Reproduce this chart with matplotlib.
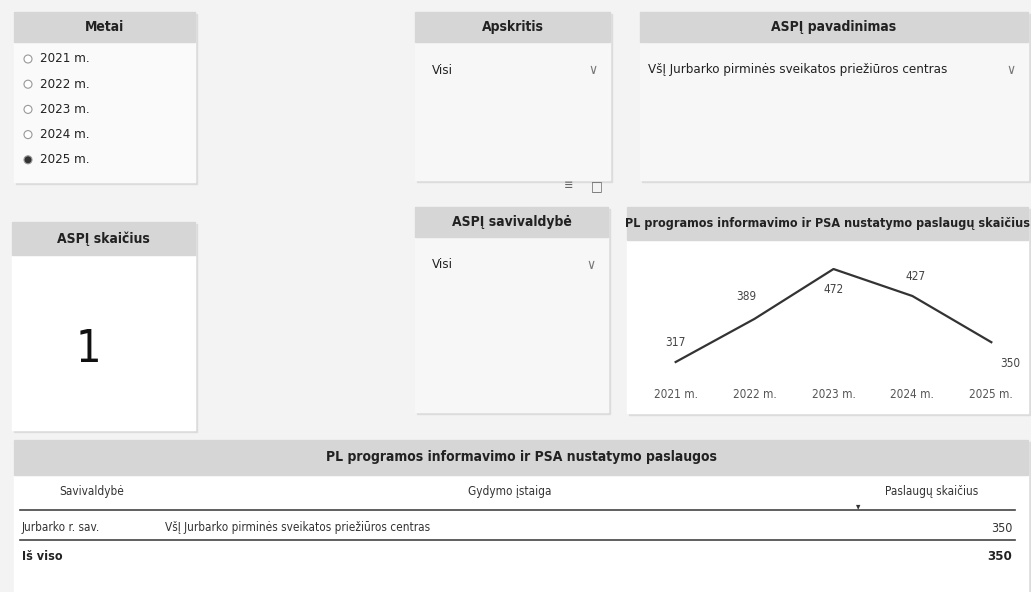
import matplotlib.pyplot as plt
from matplotlib.patches import Rectangle, Circle

W, H = 1031, 592

years = ['2021 m.', '2022 m.', '2023 m.', '2024 m.', '2025 m.']
services = [317, 389, 472, 427, 350]
selected_year = '2025 m.'
asp_count = 1
county = 'Visi'
municipality = 'Visi'
asp_name = 'VšĮ Jurbarko pirminės sveikatos priežiūros centras'
table_cols = ['Savivaldybė', 'Gydymo įstaiga', 'Paslaugų skaičius']
table_rows = [('Jurbarko r. sav.', asp_name, 350)]
table_total = 350

plt.rcParams['font.family'] = ['DejaVu Sans']
plt.rcParams['font.stretch'] = 'condensed'

fig = plt.figure(figsize=(W / 100, H / 100), dpi=100)
fig.patch.set_facecolor('#f3f3f3')
bg = fig.add_axes([0, 0, 1, 1])
bg.set_xlim(0, W)
bg.set_ylim(H, 0)
bg.axis('off')

HEAD = '#d6d6d6'
TXT = '#222222'


def card(x, y, w, h, title, head_h=30, body='white', fs=10):
    bg.add_patch(Rectangle((x + 2, y + 2), w, h, color='#dcdcdc', zorder=0))
    bg.add_patch(Rectangle((x, y), w, h, color=body, zorder=1))
    bg.add_patch(Rectangle((x, y), w, head_h, color=HEAD, zorder=2))
    bg.text(x + w / 2, y + head_h / 2, title, ha='center', va='center',
            fontsize=fs, fontweight='bold', color=TXT, zorder=3)


# Metai slicer
card(14, 12, 181, 170, 'Metai', body='#fafafa')
for i, yr in enumerate(years):
    yy = 59 + i * 25.2
    filled = yr == selected_year
    bg.add_patch(Circle((28, yy), 4, facecolor='#333333' if filled else 'white',
                        edgecolor='#999999', lw=0.8, zorder=3))
    bg.text(40, yy, yr, va='center', ha='left', fontsize=9.5, color=TXT, zorder=3)


# dropdown slicers
def dropdown(x, y, w, h, title, value, tx):
    card(x, y, w, h, title, body='#f7f7f7')
    bg.text(x + tx, y + 58, value, va='center', ha='left', fontsize=9.5, color=TXT, zorder=3)
    bg.text(x + w - 17, y + 58, '∨', va='center', ha='center', fontsize=10, color='#777777', zorder=3)


dropdown(415, 12, 195, 168, 'Apskritis', county, 17)
dropdown(640, 12, 388, 168, 'ASPĮ pavadinimas', asp_name, 8)
dropdown(415, 207, 193, 205, 'ASPĮ savivaldybė', municipality, 17)
bg.text(568, 186, '≡', fontsize=9, color='#666666', ha='center', va='center')
bg.text(597, 186, '□', fontsize=10, color='#666666', ha='center', va='center')

# ASPĮ skaičius card
card(12, 222, 183, 208, 'ASPĮ skaičius', head_h=33)
bg.text(88, 350, str(asp_count), ha='center', va='center', fontsize=32, color='#111111', zorder=3)

# line chart card
card(627, 207, 401, 206, 'PL programos informavimo ir PSA nustatymo paslaugų skaičius', head_h=33, fs=9)
x0, x1 = 652, 1015
y0, y1 = 250, 380
ax = fig.add_axes([x0 / W, 1 - y1 / H, (x1 - x0) / W, (y1 - y0) / H])
ax.patch.set_alpha(0)
xs = list(range(len(years)))
ax.plot(xs, services, color='#333333', lw=1.6)
ax.set_xlim(-0.3, 4.3)
ax.set_ylim(287, 503.7)
ax.set_xticks(xs)
ax.set_xticklabels(years, fontsize=8.5, color='#555555')
ax.set_yticks([])
ax.tick_params(axis='x', length=0, pad=6)
for s in ax.spines.values():
    s.set_visible(False)
offsets = [(0, 14), (-6, 16), (0, -15), (2, 14), (14, -15)]
for xv, v, (dx, dy) in zip(xs, services, offsets):
    ax.annotate(str(v), (xv, v), xytext=(dx, dy), textcoords='offset points',
                ha='center', va='center', fontsize=8.5, color='#444444')

# table card
card(14, 440, 1014, 160, 'PL programos informavimo ir PSA nustatymo paslaugos', head_h=35)
bg.text(92, 491, table_cols[0], ha='center', va='center', fontsize=8.5, color='#333333', zorder=3)
bg.text(510, 491, table_cols[1], ha='center', va='center', fontsize=8.5, color='#333333', zorder=3)
bg.text(932, 491, table_cols[2], ha='center', va='center', fontsize=8.5, color='#333333', zorder=3)
bg.text(858, 506, '▾', ha='center', va='center', fontsize=7, color='#333333', zorder=3)
bg.plot([20, 1015], [510, 510], color='#444444', lw=1.2, zorder=3)
for i, (mun, inst, val) in enumerate(table_rows):
    ry = 528 + i * 25
    bg.text(22, ry, mun, ha='left', va='center', fontsize=8.5, color='#333333', zorder=3)
    bg.text(165, ry, inst, ha='left', va='center', fontsize=8.5, color='#333333', zorder=3)
    bg.text(1012, ry, str(val), ha='right', va='center', fontsize=9, color='#333333', zorder=3)
bg.plot([20, 1015], [540, 540], color='#444444', lw=1.2, zorder=3)
bg.text(22, 556, 'Iš viso', ha='left', va='center', fontsize=9, fontweight='bold', color=TXT, zorder=3)
bg.text(1012, 556, str(table_total), ha='right', va='center', fontsize=9.5, fontweight='bold', color=TXT, zorder=3)

fig.savefig('out.png', dpi=100, facecolor=fig.get_facecolor())
